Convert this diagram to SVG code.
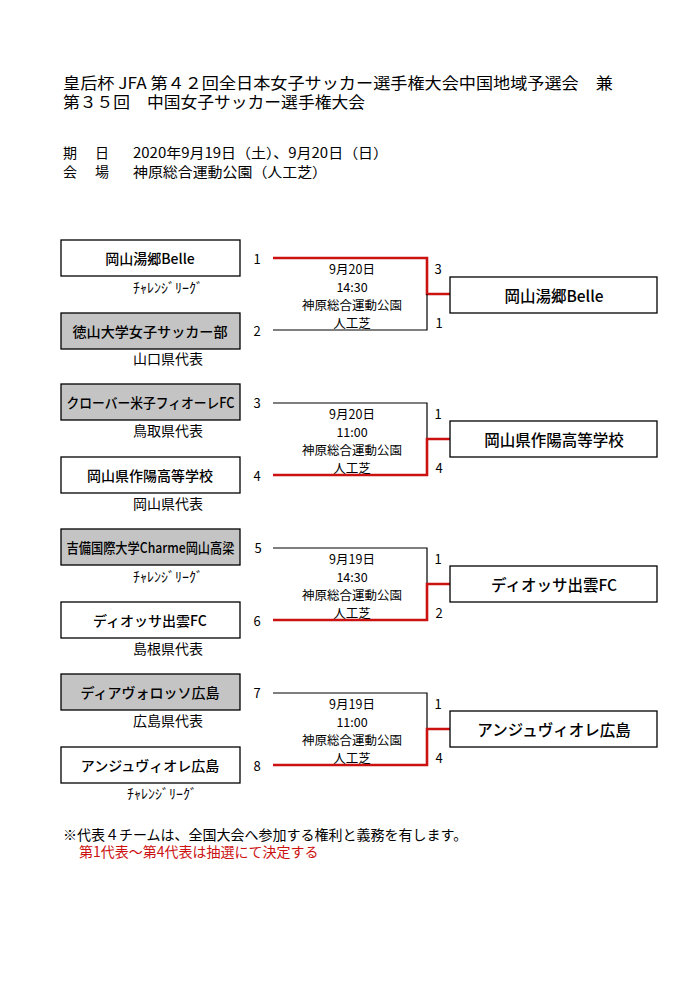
<svg xmlns="http://www.w3.org/2000/svg" width="700" height="991" viewBox="0 0 700 991">
<style>
text{font-family:"Noto Sans CJK JP","Noto Sans",sans-serif;fill:#000}
.t{font-size:15.5px}
.h{font-size:14px}
.bx{font-size:14px;font-weight:500;text-anchor:middle;dominant-baseline:central}
.bw{font-size:15.5px;font-weight:500;text-anchor:middle;dominant-baseline:central}
.sm{font-size:13.5px;dominant-baseline:central}
.num{font-size:13px;text-anchor:middle;dominant-baseline:central}
.mid{font-size:12.5px;text-anchor:middle;dominant-baseline:central}
.w{fill:#fff;stroke:#000;stroke-width:1.3}
.g{fill:#c4c4c4;stroke:#000;stroke-width:1.3}
.lb{fill:none;stroke:#000;stroke-width:1.2}
.lr{fill:none;stroke:#cc1111;stroke-width:2.6}
.red{fill:#cc1111}
</style>
<rect width="700" height="991" fill="#fff"/>
<g id="header">
<text class="t" x="63" y="89" textLength="550" lengthAdjust="spacingAndGlyphs">皇后杯 JFA 第４２回全日本女子サッカー選手権大会中国地域予選会　兼</text>
<text class="t" x="63" y="108" textLength="302" lengthAdjust="spacingAndGlyphs">第３５回　中国女子サッカー選手権大会</text>
<text class="h" x="63" y="158">期</text><text class="h" x="95" y="158">日</text>
<text class="h" x="133" y="158" textLength="255" lengthAdjust="spacingAndGlyphs">2020年9月19日（土）、9月20日（日）</text>
<text class="h" x="63" y="177">会</text><text class="h" x="95" y="177">場</text>
<text class="h" x="133" y="177" textLength="194" lengthAdjust="spacingAndGlyphs">神原総合運動公園（人工芝）</text>
</g>
<g id="connectors">
<path class="lr" d="M273 258H427V294H450"/>
<path class="lb" d="M273 330H427V294"/>
<path class="lb" d="M273 403H427V439"/>
<path class="lr" d="M273 475H427V439H450"/>
<path class="lb" d="M273 548H427V584"/>
<path class="lr" d="M273 620H427V584H450"/>
<path class="lb" d="M273 693H427V729"/>
<path class="lr" d="M273 765H427V729H450"/>
</g>
<g id="team1"><rect class="w" x="61" y="240" width="179" height="36"/><text class="bx" x="150" y="258">岡山湯郷Belle</text><text class="sm" x="133" y="287" textLength="70" lengthAdjust="spacingAndGlyphs">ﾁｬﾚﾝｼﾞﾘｰｸﾞ</text><text class="num" x="257" y="258">1</text></g>
<g id="team2"><rect class="g" x="61" y="313" width="179" height="36"/><text class="bx" x="150" y="331" textLength="155" lengthAdjust="spacingAndGlyphs">徳山大学女子サッカー部</text><text class="sm" x="133" y="358" textLength="70" lengthAdjust="spacingAndGlyphs">山口県代表</text><text class="num" x="257" y="330">2</text></g>
<g id="team3"><rect class="g" x="61" y="384" width="179" height="36"/><text class="bx" x="150.5" y="402" textLength="168" lengthAdjust="spacingAndGlyphs">クローバー米子フィオーレFC</text><text class="sm" x="133" y="430" textLength="70" lengthAdjust="spacingAndGlyphs">鳥取県代表</text><text class="num" x="257" y="402">3</text></g>
<g id="team4"><rect class="w" x="61" y="457" width="179" height="36"/><text class="bx" x="150" y="475">岡山県作陽高等学校</text><text class="sm" x="133" y="503" textLength="70" lengthAdjust="spacingAndGlyphs">岡山県代表</text><text class="num" x="257" y="475">4</text></g>
<g id="team5"><rect class="g" x="61" y="529" width="179" height="36"/><text class="bx" x="150.5" y="547" textLength="168" lengthAdjust="spacingAndGlyphs">吉備国際大学Charme岡山高梁</text><text class="sm" x="133" y="576" textLength="70" lengthAdjust="spacingAndGlyphs">ﾁｬﾚﾝｼﾞﾘｰｸﾞ</text><text class="num" x="258" y="547">5</text></g>
<g id="team6"><rect class="w" x="61" y="602" width="179" height="36"/><text class="bx" x="150" y="620">ディオッサ出雲FC</text><text class="sm" x="133" y="648" textLength="70" lengthAdjust="spacingAndGlyphs">島根県代表</text><text class="num" x="257" y="620">6</text></g>
<g id="team7"><rect class="g" x="61" y="674" width="179" height="36"/><text class="bx" x="150" y="692">ディアヴォロッソ広島</text><text class="sm" x="133" y="720" textLength="70" lengthAdjust="spacingAndGlyphs">広島県代表</text><text class="num" x="257" y="692">7</text></g>
<g id="team8"><rect class="w" x="61" y="747" width="179" height="36"/><text class="bx" x="150" y="765">アンジュヴィオレ広島</text><text class="sm" x="127" y="793" textLength="70" lengthAdjust="spacingAndGlyphs">ﾁｬﾚﾝｼﾞﾘｰｸﾞ</text><text class="num" x="257" y="765">8</text></g>
<g id="match1"><text class="mid" x="352" y="268">9月20日</text><text class="mid" x="352" y="286">14:30</text><text class="mid" x="352" y="304">神原総合運動公園</text><text class="mid" x="352" y="322">人工芝</text><text class="num" x="438" y="268">3</text><text class="num" x="439" y="322">1</text></g>
<g id="match2"><text class="mid" x="352" y="413">9月20日</text><text class="mid" x="352" y="431">11:00</text><text class="mid" x="352" y="449">神原総合運動公園</text><text class="mid" x="352" y="467">人工芝</text><text class="num" x="438" y="413">1</text><text class="num" x="439" y="467">4</text></g>
<g id="match3"><text class="mid" x="352" y="558">9月19日</text><text class="mid" x="352" y="576">14:30</text><text class="mid" x="352" y="594">神原総合運動公園</text><text class="mid" x="352" y="612">人工芝</text><text class="num" x="438" y="558">1</text><text class="num" x="439" y="612">2</text></g>
<g id="match4"><text class="mid" x="352" y="703">9月19日</text><text class="mid" x="352" y="721">11:00</text><text class="mid" x="352" y="739">神原総合運動公園</text><text class="mid" x="352" y="757">人工芝</text><text class="num" x="438" y="703">1</text><text class="num" x="439" y="757">4</text></g>
<g id="winner1"><rect class="w" x="450" y="277" width="207" height="36"/><text class="bw" x="554" y="295">岡山湯郷Belle</text></g>
<g id="winner2"><rect class="w" x="450" y="421" width="207" height="36"/><text class="bw" x="554" y="439">岡山県作陽高等学校</text></g>
<g id="winner3"><rect class="w" x="450" y="566" width="207" height="36"/><text class="bw" x="554" y="584">ディオッサ出雲FC</text></g>
<g id="winner4"><rect class="w" x="450" y="711" width="207" height="36"/><text class="bw" x="554" y="729">アンジュヴィオレ広島</text></g>
<g id="notes">
<text class="h" x="63" y="840">※代表４チームは、全国大会へ参加する権利と義務を有します。</text>
<text class="h red" x="79" y="857">第1代表～第4代表は抽選にて決定する</text>
</g>
</svg>
